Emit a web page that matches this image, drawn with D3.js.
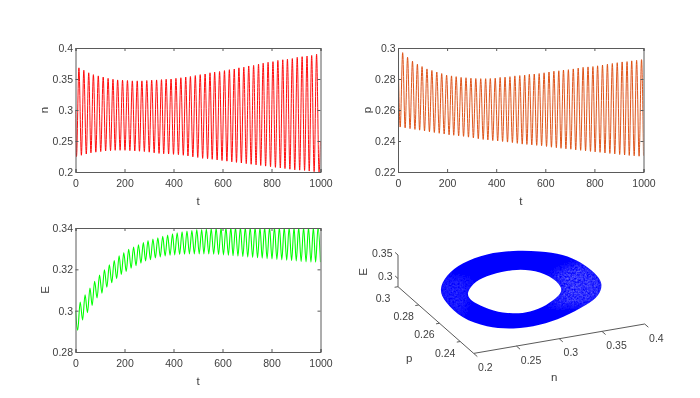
<!DOCTYPE html>
<html>
<head>
<meta charset="utf-8">
<script src="https://cdn.jsdelivr.net/npm/d3@7"></script>
<style>
    html, body { margin: 0; padding: 0; background: #fff; }
    svg { display: block; }
    text { font-family: "Liberation Sans", Arial, sans-serif; font-size: 10.5px; fill: #404040; }
    .domain, .tick line, .axis3d { stroke: #5a5a5a; stroke-width: 1; fill: none; }
</style>
</head>
<body>
<div id="chart"></div>
<script>
// Turning points of each time series
const nPeakT = [14,34,54,73,93,113,133,153,172,192,212,232,252,271,291,311,331,351,370,390,410,430,450,469,489,509,529,549,568,588,608,628,648,667,687,707,727,747,766,786,806,826,846,865,885,905,925,945,964,984];
const nPeakV = [.368,.364,.36,.357,.355,.353,.351,.3495,.3485,.348,.3475,.347,.347,.347,.3475,.348,.3485,.349,.3495,.35,.351,.352,.353,.354,.3555,.357,.358,.36,.361,.362,.3635,.365,.366,.368,.369,.371,.372,.374,.3755,.377,.378,.38,.381,.382,.383,.385,.386,.387,.388,.39];
const nTroughT = [4,24,44,63,83,103,123,143,162,182,202,222,242,261,281,301,321,341,360,380,400,420,440,459,479,499,519,539,558,578,598,618,638,657,677,697,717,737,756,776,796,816,836,855,875,895,915,935,954,974,994];
const nTroughV = [.225,.227,.229,.231,.232,.233,.234,.2345,.235,.235,.235,.2345,.234,.2335,.233,.232,.231,.23,.2295,.229,.2285,.228,.227,.226,.2245,.2235,.222,.2215,.2205,.2195,.2185,.2175,.2165,.2155,.2145,.2135,.2125,.2115,.2105,.2095,.2085,.2075,.2065,.2055,.2045,.2035,.203,.2025,.2015,.2005,.2];
const nEnds = [[0, .3], [1000, .25]];

const pPeakT = [19,39,59,79,98,118,138,158,178,198,218,237,257,277,297,317,337,357,376,396,416,436,456,476,496,516,535,555,575,595,615,635,655,674,694,714,734,754,774,794,813,833,853,873,893,913,933,952,972,992];
const pPeakV = [.297,.294,.2915,.2895,.288,.2865,.2855,.2845,.2835,.2825,.282,.2815,.281,.2808,.2805,.2803,.2802,.2802,.2803,.2805,.281,.2812,.2815,.282,.2822,.2825,.283,.2832,.2835,.284,.2845,.285,.2853,.2858,.286,.2865,.287,.2875,.2878,.288,.2885,.289,.2895,.29,.2905,.291,.2912,.2917,.292,.2925];
const pTroughT = [9,29,49,69,88,108,128,148,168,188,208,227,247,267,287,307,327,347,366,386,406,426,446,466,486,506,525,545,565,585,605,625,645,664,684,704,724,744,764,784,803,823,843,863,883,903,923,942,962,982];
const pTroughV = [.249,.2485,.248,.2475,.247,.2465,.246,.2455,.245,.2445,.244,.2437,.2433,.243,.2425,.242,.2415,.241,.2407,.2403,.24,.2397,.2393,.239,.2385,.238,.2378,.2375,.2372,.237,.2365,.236,.2357,.2353,.235,.2347,.2343,.234,.2337,.2333,.233,.2327,.2323,.232,.2317,.2313,.231,.2307,.2305,.2302];
const pEnds = [[0, .3], [1000, .2305]];

const ePeakT = [19,39,59,78,98,118,138,158,178,197,217,237,257,277,296,316,336,356,376,396,415,435,455,475,495,515,534,554,574,594,614,634,653,673,693,713,733,753,772,792,812,832,852,872,892,911,931,951,971,990];
const ePeakV = [.3042,.3077,.311,.3142,.3172,.3198,.3222,.3243,.3265,.328,.3297,.3308,.3319,.3329,.3339,.3347,.3353,.336,.3366,.3372,.3377,.3382,.3385,.3388,.3392,.3393,.3395,.3397,.3399,.34,.3401,.3402,.3403,.3403,.3403,.3403,.3403,.3403,.3403,.3403,.3403,.3403,.3403,.3403,.3403,.3403,.3403,.3403,.3403,.3403];
const eTroughT = [9,29,49,68,88,108,128,148,168,187,207,227,247,267,286,306,326,346,366,386,405,425,445,465,485,505,524,544,564,584,604,624,643,663,683,703,723,743,762,782,802,822,842,862,882,901,921,941,961,980];
const eTroughV = [.2905,.2955,.299,.3025,.3062,.3085,.3113,.3135,.3155,.3175,.319,.3205,.3218,.323,.324,.3247,.3255,.326,.3265,.3268,.327,.3272,.3273,.3275,.3275,.3275,.3275,.3274,.3273,.3271,.327,.3268,.3266,.3264,.3262,.326,.3258,.3256,.3254,.3252,.325,.3248,.3246,.3244,.3242,.324,.3238,.3236,.3235,.3234];
const eEnds = [[0, .3], [1000, .3235]];

// Edges of the band in the 3D phase plot
const outerN = [.2114,.2352,.2642,.2991,.3285,.3539,.3734,.382,.3836,.3799,.3623,.3395,.303,.2713,.2408,.2169,.202,.2042];
const outerP = [.2702,.2827,.2916,.2961,.2947,.2899,.2835,.273,.2614,.2504,.2397,.2331,.2255,.2218,.2223,.2284,.2403,.2582];
const innerN = [.2372,.257,.279,.3074,.3233,.3369,.3363,.3238,.3,.276,.2578,.2412,.2322,.2318];
const innerP = [.2641,.2727,.2764,.2773,.2744,.2664,.253,.2459,.2391,.2353,.2364,.242,.2522,.2584];
const ringE = 0.33;

const tTicks = [0, 200, 400, 600, 800, 1000];
const nTicks = [0.2, 0.25, 0.3, 0.35, 0.4];
const pTicks = [0.22, 0.24, 0.26, 0.28, 0.3];
const eTicks = [0.28, 0.3, 0.32, 0.34];
const n3dTicks = [0.2, 0.25, 0.3, 0.35, 0.4];
const p3dTicks = [0.3, 0.28, 0.26, 0.24];
const e3dTicks = [0.3, 0.35];

const width = 700;
const height = 398;
const fmt = d3.format("~g");

const svg = d3.select("#chart")
    .append("svg")
    .attr("width", width)
    .attr("height", height);

const defs = svg.append("defs");

// The reference is a slightly soft raster
defs.append("filter").attr("id", "soft")
    .attr("x", 0).attr("y", 0).attr("width", 1).attr("height", 1)
    .append("feGaussianBlur").attr("stdDeviation", 0.4);

// Dense lines wash out a little sideways between the peaks
defs.append("filter").attr("id", "smear")
    .append("feGaussianBlur").attr("stdDeviation", "0.35 0");

const root = svg.append("g").attr("filter", "url(#soft)");

root.append("rect")
    .attr("width", width)
    .attr("height", height)
    .attr("fill", "#fff");

function turningPoints(peakT, peakV, troughT, troughV, ends) {
    const pts = ends.slice();
    peakT.forEach(function(t, i) { pts.push([t, peakV[i]]); });
    troughT.forEach(function(t, i) { pts.push([t, troughV[i]]); });
    return pts.sort(function(a, b) { return d3.ascending(a[0], b[0]); });
}

function drawPanel(id, xRange, yRange, yDomain, yTicks, yLabel, yLabelX, points, color, lineWidth) {

    const x = d3.scaleLinear().domain([0, 1000]).range(xRange);
    const y = d3.scaleLinear().domain(yDomain).range(yRange);

    const g = root.append("g");

    defs.append("clipPath").attr("id", "clip-" + id)
        .append("rect")
        .attr("x", xRange[0])
        .attr("y", yRange[1])
        .attr("width", xRange[1] - xRange[0])
        .attr("height", yRange[0] - yRange[1]);

    const line = d3.line()
        .x(function(d) { return x(d[0]); })
        .y(function(d) { return y(d[1]); })
        .curve(d3.curveMonotoneX);

    g.append("g")
        .attr("clip-path", "url(#clip-" + id + ")")
        .append("path")
        .attr("d", line(points))
        .attr("fill", "none")
        .attr("stroke", color)
        .attr("stroke-width", lineWidth)
        .attr("filter", "url(#smear)");

    g.append("g")
        .attr("transform", "translate(0," + yRange[0] + ")")
        .call(d3.axisBottom(x).tickValues(tTicks).tickSize(-3).tickPadding(8).tickFormat(fmt));
    g.append("g")
        .attr("transform", "translate(0," + yRange[1] + ")")
        .call(d3.axisTop(x).tickValues(tTicks).tickSize(-3).tickFormat(""));
    g.append("g")
        .attr("transform", "translate(" + xRange[0] + ",0)")
        .call(d3.axisLeft(y).tickValues(yTicks).tickSize(-3).tickPadding(2.5).tickFormat(fmt));
    g.append("g")
        .attr("transform", "translate(" + xRange[1] + ",0)")
        .call(d3.axisRight(y).tickValues(yTicks).tickSize(-3).tickFormat(""));

    g.selectAll("text").attr("fill", null);
    g.selectAll(".domain, .tick line").attr("stroke", null);

    g.append("text")
        .attr("x", (xRange[0] + xRange[1]) / 2)
        .attr("y", yRange[0] + 33)
        .attr("text-anchor", "middle")
        .style("font-size", "11.5px")
        .text("t");

    g.append("text")
        .attr("transform", "translate(" + yLabelX + "," + (yRange[0] + yRange[1]) / 2 + ") rotate(-90)")
        .attr("text-anchor", "middle")
        .style("font-size", "11.5px")
        .text(yLabel);
}

drawPanel("n", [75.5, 320.5], [172, 48], [0.2, 0.4], nTicks, "n", 48,
    turningPoints(nPeakT, nPeakV, nTroughT, nTroughV, nEnds), "#ff0000", 0.95);
drawPanel("p", [398, 643.5], [172, 48], [0.22, 0.3], pTicks, "p", 371,
    turningPoints(pPeakT, pPeakV, pTroughT, pTroughV, pEnds), "#dc4c10", 0.95);
drawPanel("e", [75.5, 320.5], [352, 228], [0.28, 0.34], eTicks, "E", 49,
    turningPoints(ePeakT, ePeakV, eTroughT, eTroughV, eEnds), "#00ff00", 1.1);

// 3D panel: each data axis adds its own screen offset
const originX = 398;
const originY = 286.7;
const nToX = d3.scaleLinear().domain([0.2, 0.4]).range([0, 171]);
const nToY = d3.scaleLinear().domain([0.2, 0.4]).range([0, -29.4]);
const pToX = d3.scaleLinear().domain([0.3, 0.227]).range([0, 75.7]);
const pToY = d3.scaleLinear().domain([0.3, 0.227]).range([0, 66.7]);
const eToY = d3.scaleLinear().domain([0.2826, 0.35]).range([0, -31.7]);

const nMin = 0.2, nMax = 0.4, pMin = 0.227, pMax = 0.3, eMin = 0.2826, eMax = 0.35;

function project(n, p, e) {
    return [
        originX + nToX(n) + pToX(p),
        originY + nToY(n) + pToY(p) + eToY(e)
    ];
}

const g3 = root.append("g");

const ringLine = d3.line().curve(d3.curveBasisClosed);

const outerPts = outerN.map(function(n, i) { return project(n, outerP[i], ringE); });
const innerPts = innerN.map(function(n, i) { return project(n, innerP[i], ringE); });
const ringPath = ringLine(outerPts) + ringLine(innerPts);

g3.append("path")
    .attr("d", ringPath)
    .attr("fill", "#0000ff")
    .attr("fill-rule", "evenodd");

defs.append("clipPath").attr("id", "clip-ring")
    .append("path")
    .attr("d", ringPath)
    .attr("clip-rule", "evenodd");

// Lighter speckled ends where the orbit lines spread apart
const speck = defs.append("filter").attr("id", "speck")
    .attr("x", "-20%").attr("y", "-20%").attr("width", "140%").attr("height", "140%");
speck.append("feGaussianBlur").attr("in", "SourceGraphic").attr("stdDeviation", 4).attr("result", "b");
speck.append("feTurbulence").attr("type", "fractalNoise").attr("baseFrequency", 0.55).attr("numOctaves", 2).attr("seed", 4).attr("result", "noise");
speck.append("feColorMatrix").attr("in", "noise").attr("type", "matrix")
    .attr("values", "0 0 0 0 1  0 0 0 0 1  0 0 0 0 1  1.6 0 0 0 -0.35").attr("result", "dots");
speck.append("feComposite").attr("in", "dots").attr("in2", "b").attr("operator", "in");

const rightPatch = outerPts.slice(7, 12).concat(innerPts.slice(5, 9).reverse());
const leftPatch = outerPts.slice(16).concat(outerPts.slice(0, 2)).concat(innerPts.slice(0, 2).reverse()).concat(innerPts.slice(13));

const patches = g3.append("g")
    .attr("clip-path", "url(#clip-ring)");

patches.append("path")
    .attr("d", d3.line()(rightPatch) + "Z")
    .attr("fill", "#fff")
    .attr("opacity", 0.42)
    .attr("filter", "url(#speck)");

patches.append("path")
    .attr("d", d3.line()(leftPatch) + "Z")
    .attr("fill", "#fff")
    .attr("opacity", 0.22)
    .attr("filter", "url(#speck)");

// Axis lines
const axisCorners = [
    project(nMin, pMax, eMax),
    project(nMin, pMax, eMin),
    project(nMin, pMin, eMin),
    project(nMax, pMin, eMin)
];

g3.append("path")
    .attr("class", "axis3d")
    .attr("d", d3.line()(axisCorners));

function stub(a, b) {
    g3.append("path")
        .attr("class", "axis3d")
        .attr("d", d3.line()([a, b]));
}

n3dTicks.forEach(function(v) {
    const a = project(v, pMin, eMin);
    stub(a, project(v, pMin - 0.0035, eMin));
    g3.append("text")
        .attr("x", a[0] + 4.4)
        .attr("y", a[1] + 17.5)
        .text(fmt(v));
});

p3dTicks.forEach(function(v) {
    const a = project(nMin, v, eMin);
    stub(a, project(nMin - 0.004, v, eMin));
    g3.append("text")
        .attr("x", a[0] - 15)
        .attr("y", a[1] + 15)
        .attr("text-anchor", "middle")
        .text(fmt(v));
});

e3dTicks.forEach(function(v) {
    const a = project(nMin, pMax, v);
    stub(a, project(nMin, pMax + 0.0028, v));
    g3.append("text")
        .attr("x", a[0] - 5.5)
        .attr("y", a[1] + 1.5)
        .attr("text-anchor", "end")
        .text(fmt(v));
});

// Axis names sit relative to the axis ends
const pEnd = project(nMin, pMin, eMin);
const nEnd = project(nMax, pMin, eMin);
const eTop = project(nMin, pMax, eMax);

g3.append("text")
    .attr("transform", "translate(" + (eTop[0] - 31.5) + "," + (eTop[1] + 17) + ") rotate(-90)")
    .attr("text-anchor", "middle")
    .style("font-size", "11.5px")
    .text("E");
g3.append("text")
    .attr("x", pEnd[0] - 64.5)
    .attr("y", pEnd[1] + 8.5)
    .attr("text-anchor", "middle")
    .style("font-size", "11.5px")
    .text("p");
g3.append("text")
    .attr("x", nEnd[0] - 90.5)
    .attr("y", nEnd[1] + 56.5)
    .attr("text-anchor", "middle")
    .style("font-size", "11.5px")
    .text("n");
</script>
</body>
</html>
